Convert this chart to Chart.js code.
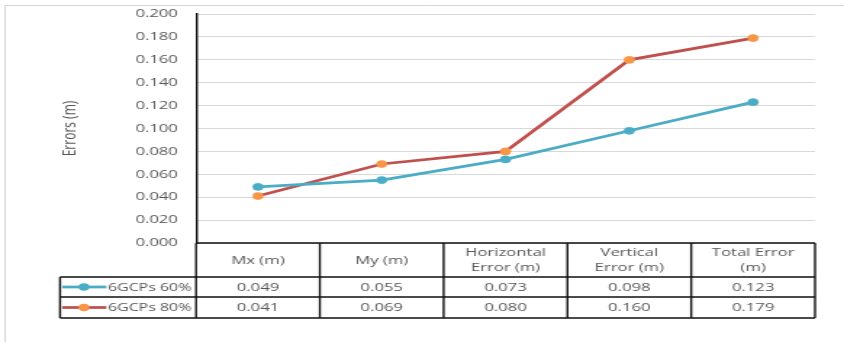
<!DOCTYPE html>
<html>
<head>
<meta charset="utf-8">
<script src="https://cdn.jsdelivr.net/npm/chart.js@4"></script>
<style>
  html, body { margin: 0; padding: 0; background: #fff; overflow: hidden; }
  /* the chart is laid out narrow and widened horizontally */
  #wrap { width: 582px; height: 342px; transform: scaleX(1.4502); transform-origin: 0 0; }
</style>
</head>
<body>
<div id="wrap"><canvas id="c"></canvas></div>
<script>
// Categories (multi-line header labels as arrays)
const categories = ['Mx (m)', 'My (m)', ['Horizontal', 'Error (m)'], ['Vertical', 'Error (m)'], ['Total Error', '(m)']];
// Series values (m)
const gcp60 = [0.049, 0.055, 0.073, 0.098, 0.123];
const gcp80 = [0.041, 0.069, 0.080, 0.160, 0.179];
const seriesNames = ['6GCPs 60%', '6GCPs 80%'];
// Value axis
const yMin = 0, yMax = 0.2, yStep = 0.02;
const yTitle = 'Errors (m)';

const FONT = '"Open Sans", "DejaVu Sans", sans-serif';
const TEXT = '#575757';
const AXIS_LEFT = 135.2;   // left edge of plot area
const PAD_LEFT = 41;
const LEGEND_LEFT = 41.4;

const tablePlugin = {
  id: 'dataTable',
  afterDraw(chart) {
    const { ctx, chartArea: a, scales: { x } } = chart;
    const n = chart.data.labels.length;
    const colW = (a.right - a.left) / n;
    const top = a.bottom;
    const headBottom = top + 34;
    const r1 = headBottom + 20;
    const r2 = r1 + 21;
    ctx.save();

    // outer frame
    ctx.strokeStyle = '#d4d4d4';
    ctx.lineWidth = 1;
    ctx.beginPath();
    ctx.moveTo(3.5, chart.height + 5);
    ctx.lineTo(3.5, 5.5);
    ctx.lineTo(chart.width + 5, 5.5);
    ctx.stroke();

    // table grid
    ctx.strokeStyle = '#111';
    ctx.lineWidth = 1.4;
    ctx.beginPath();
    ctx.moveTo(a.left, top); ctx.lineTo(a.right, top);
    [headBottom, r1, r2].forEach(y => { ctx.moveTo(LEGEND_LEFT, y); ctx.lineTo(a.right, y); });
    ctx.moveTo(LEGEND_LEFT, headBottom); ctx.lineTo(LEGEND_LEFT, r2);
    for (let i = 0; i <= n; i++) {
      const xx = a.left + i * colW;
      ctx.moveTo(xx, top); ctx.lineTo(xx, r2);
    }
    ctx.stroke();

    // header labels
    ctx.fillStyle = TEXT;
    ctx.font = '11.5px ' + FONT;
    ctx.textAlign = 'center';
    ctx.textBaseline = 'middle';
    chart.data.labels.forEach((lab, i) => {
      const cx = x.getPixelForValue(i);
      const lines = Array.isArray(lab) ? lab : [lab];
      const mid = (top + headBottom) / 2 + 0.5;
      const lh = 15;
      lines.forEach((t, k) => {
        ctx.fillText(t, cx, mid + (k - (lines.length - 1) / 2) * lh);
      });
    });

    // series rows
    const rows = [r1 - 10, r2 - 10.5];
    chart.data.datasets.forEach((ds, di) => {
      const cy = rows[di];
      ctx.font = '11.5px ' + FONT;
      ds.data.forEach((v, i) => {
        ctx.textAlign = 'center';
        ctx.fillStyle = TEXT;
        ctx.fillText(v.toFixed(3), x.getPixelForValue(i), cy + 0.5);
      });
      // legend key
      ctx.strokeStyle = ds.borderColor;
      ctx.lineWidth = 2.75;
      ctx.beginPath();
      ctx.moveTo(LEGEND_LEFT + 1.5, cy); ctx.lineTo(LEGEND_LEFT + 32, cy);
      ctx.stroke();
      ctx.fillStyle = ds.pointBackgroundColor;
      ctx.beginPath();
      ctx.arc(LEGEND_LEFT + 16.5, cy, 3.7, 0, Math.PI * 2);
      ctx.fill();
      ctx.fillStyle = TEXT;
      ctx.textAlign = 'left';
      ctx.font = '11px ' + FONT;
      ctx.fillText(ds.label, LEGEND_LEFT + 33, cy + 0.5);
    });
    ctx.restore();
  }
};

new Chart(document.getElementById('c'), {
  type: 'line',
  data: {
    labels: categories,
    datasets: [
      {
        label: seriesNames[0], data: gcp60,
        borderColor: '#4BACC6', backgroundColor: '#4BACC6',
        pointBackgroundColor: '#4BACC6', pointBorderColor: '#4BACC6',
        borderWidth: 2.75, pointRadius: 3.6, pointBorderWidth: 0.5, tension: 0
      },
      {
        label: seriesNames[1], data: gcp80,
        borderColor: '#C0504D', backgroundColor: '#F79646',
        pointBackgroundColor: '#F79646', pointBorderColor: '#F79646',
        borderWidth: 2.75, pointRadius: 3.6, pointBorderWidth: 0.5, tension: 0
      }
    ]
  },
  options: {
    responsive: true,
    maintainAspectRatio: false,
    animation: false,
    layout: { autoPadding: false, padding: { left: PAD_LEFT, top: 14, right: 20, bottom: 99 } },
    plugins: { legend: { display: false }, tooltip: { enabled: false } },
    scales: {
      x: { type: 'category', display: false, offset: true },
      y: {
        min: yMin, max: yMax,
        grid: { color: '#d9d9d9', lineWidth: 1, drawTicks: true, tickLength: 9.5, tickColor: 'rgba(0,0,0,0)' },
        border: { color: '#000', width: 1.4 },
        ticks: {
          stepSize: yStep, padding: 3, color: TEXT,
          font: { family: FONT, size: 11.5 },
          callback: v => Number(v).toFixed(3)
        },
        title: {
          display: true, text: yTitle, color: TEXT, padding: 0,
          font: { family: FONT, size: 12 }
        },
        afterFit(scale) { scale.width = AXIS_LEFT - PAD_LEFT; }
      }
    }
  },
  plugins: [tablePlugin]
});
</script>
</body>
</html>
